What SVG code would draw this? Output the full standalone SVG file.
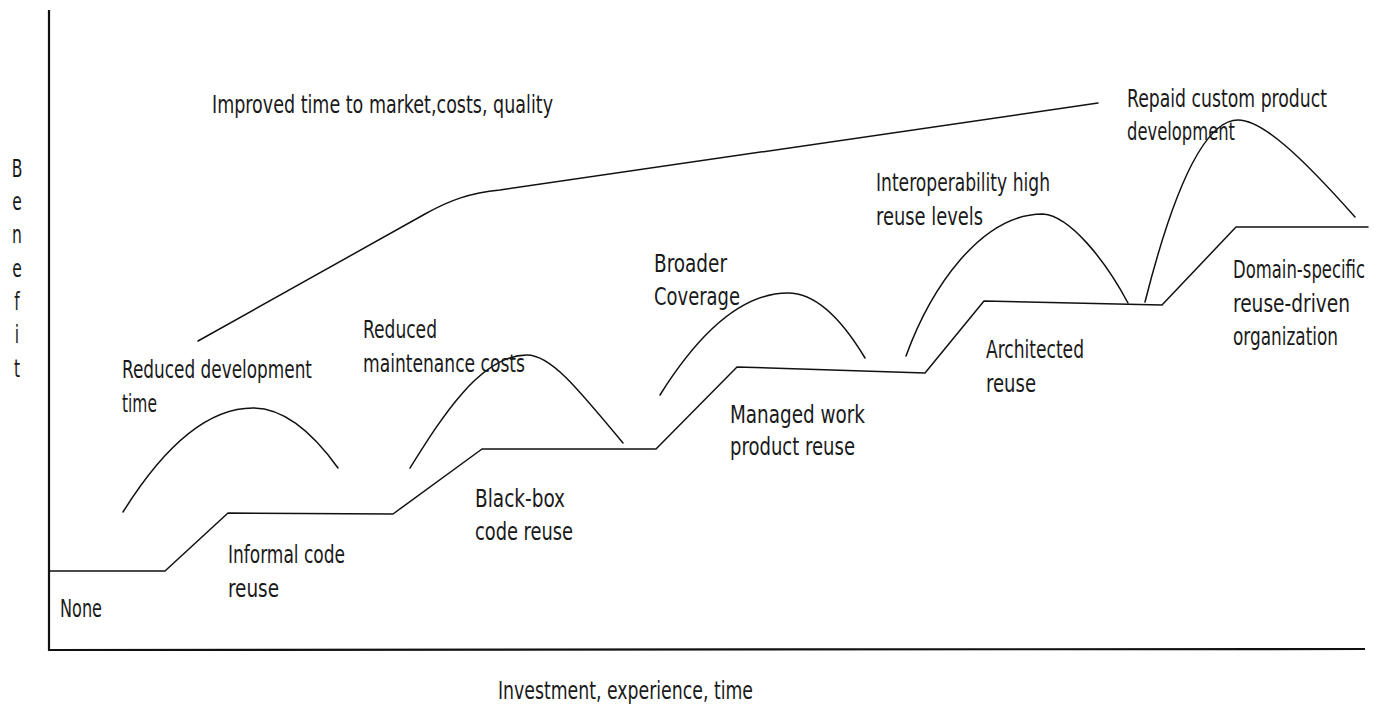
<svg xmlns="http://www.w3.org/2000/svg" width="1386" height="704" viewBox="0 0 1386 704">
  <style>
    .ln { fill: none; stroke: #111; stroke-width: 1.5; stroke-linejoin: round; stroke-linecap: round; }
    .ax { fill: none; stroke: #111; stroke-width: 2.2; }
    .lb { font-family: "DejaVu Sans Condensed", "DejaVu Sans", sans-serif; font-size: 24px; fill: #1a1a1a; }
  </style>
  <rect width="1386" height="704" fill="#fff"/>

  <!-- axes -->
  <g id="axes">
    <path class="ax" d="M49,10 L49,650 L1365,649"/>
  </g>

  <!-- connectors: staircase of reuse levels, benefit arches, overall trend line -->
  <g id="connectors">
    <polyline id="staircase" class="ln" points="49,571 165,571 228,513 393,514 482,449 656,449 737,367 925,373 984,301 1162,305 1236,227 1368,227"/>
    <path id="arch-1" class="ln" d="M123,512 Q188,408 253,408 Q295,408 338,468"/>
    <path id="arch-2" class="ln" d="M410,468 C440,420 480,355 527,355 C550,355 575,385 623,443"/>
    <path id="arch-3" class="ln" d="M660,395 Q724,293 788,293 Q826,293 865,358"/>
    <path id="arch-4" class="ln" d="M906,356 C930,290 980,214 1043,214 C1070,216 1105,260 1128,303"/>
    <path id="arch-5" class="ln" d="M1145,302 Q1191,120 1238,120 C1262,120 1300,155 1355,217"/>
    <path id="trend" class="ln" d="M198,341 L425,214 C450,200 470,193 500,190 L1098,103"/>
  </g>

  <!-- vertical axis title -->
  <g id="axis-y-label" class="lb" transform="translate(17 0) scale(0.72 1)" text-anchor="middle">
    <text x="0" y="177">B</text>
    <text x="0" y="210">e</text>
    <text x="0" y="243">n</text>
    <text x="0" y="277">e</text>
    <text x="0" y="310">f</text>
    <text x="0" y="343">i</text>
    <text x="0" y="377">t</text>
  </g>

  <g id="axis-x-label" class="lb">
    <text x="498" y="699" textLength="255" lengthAdjust="spacingAndGlyphs">Investment, experience, time</text>
  </g>

  <g id="trend-label" class="lb">
    <text x="212" y="113" textLength="341" lengthAdjust="spacingAndGlyphs">Improved time to market,costs, quality</text>
  </g>

  <!-- benefit labels -->
  <g id="benefit-dev-time" class="lb">
    <text x="122" y="378" textLength="190" lengthAdjust="spacingAndGlyphs">Reduced development</text>
    <text x="122" y="412" textLength="35" lengthAdjust="spacingAndGlyphs">time</text>
  </g>
  <g id="benefit-maintenance" class="lb">
    <text x="363" y="338" textLength="74" lengthAdjust="spacingAndGlyphs">Reduced</text>
    <text x="363" y="372" textLength="162" lengthAdjust="spacingAndGlyphs">maintenance costs</text>
  </g>
  <g id="benefit-coverage" class="lb">
    <text x="654" y="272" textLength="73" lengthAdjust="spacingAndGlyphs">Broader</text>
    <text x="654" y="305" textLength="86" lengthAdjust="spacingAndGlyphs">Coverage</text>
  </g>
  <g id="benefit-interop" class="lb">
    <text x="876" y="191" textLength="174" lengthAdjust="spacingAndGlyphs">Interoperability high</text>
    <text x="876" y="225" textLength="107" lengthAdjust="spacingAndGlyphs">reuse levels</text>
  </g>
  <g id="benefit-repaid" class="lb">
    <text x="1127" y="107" textLength="200" lengthAdjust="spacingAndGlyphs">Repaid custom product</text>
    <text x="1127" y="140" textLength="108" lengthAdjust="spacingAndGlyphs">development</text>
  </g>

  <!-- reuse level labels -->
  <g id="level-none" class="lb">
    <text x="60" y="617" textLength="42" lengthAdjust="spacingAndGlyphs">None</text>
  </g>
  <g id="level-informal" class="lb">
    <text x="228" y="563" textLength="117" lengthAdjust="spacingAndGlyphs">Informal code</text>
    <text x="228" y="597" textLength="51" lengthAdjust="spacingAndGlyphs">reuse</text>
  </g>
  <g id="level-blackbox" class="lb">
    <text x="475" y="507" textLength="90" lengthAdjust="spacingAndGlyphs">Black-box</text>
    <text x="475" y="540" textLength="98" lengthAdjust="spacingAndGlyphs">code reuse</text>
  </g>
  <g id="level-managed" class="lb">
    <text x="730" y="423" textLength="135" lengthAdjust="spacingAndGlyphs">Managed work</text>
    <text x="730" y="455" textLength="125" lengthAdjust="spacingAndGlyphs">product reuse</text>
  </g>
  <g id="level-architected" class="lb">
    <text x="986" y="358" textLength="98" lengthAdjust="spacingAndGlyphs">Architected</text>
    <text x="986" y="392" textLength="50" lengthAdjust="spacingAndGlyphs">reuse</text>
  </g>
  <g id="level-domain" class="lb">
    <text x="1233" y="278" textLength="132" lengthAdjust="spacingAndGlyphs">Domain-specific</text>
    <text x="1233" y="312" textLength="117" lengthAdjust="spacingAndGlyphs">reuse-driven</text>
    <text x="1233" y="345" textLength="105" lengthAdjust="spacingAndGlyphs">organization</text>
  </g>
</svg>
